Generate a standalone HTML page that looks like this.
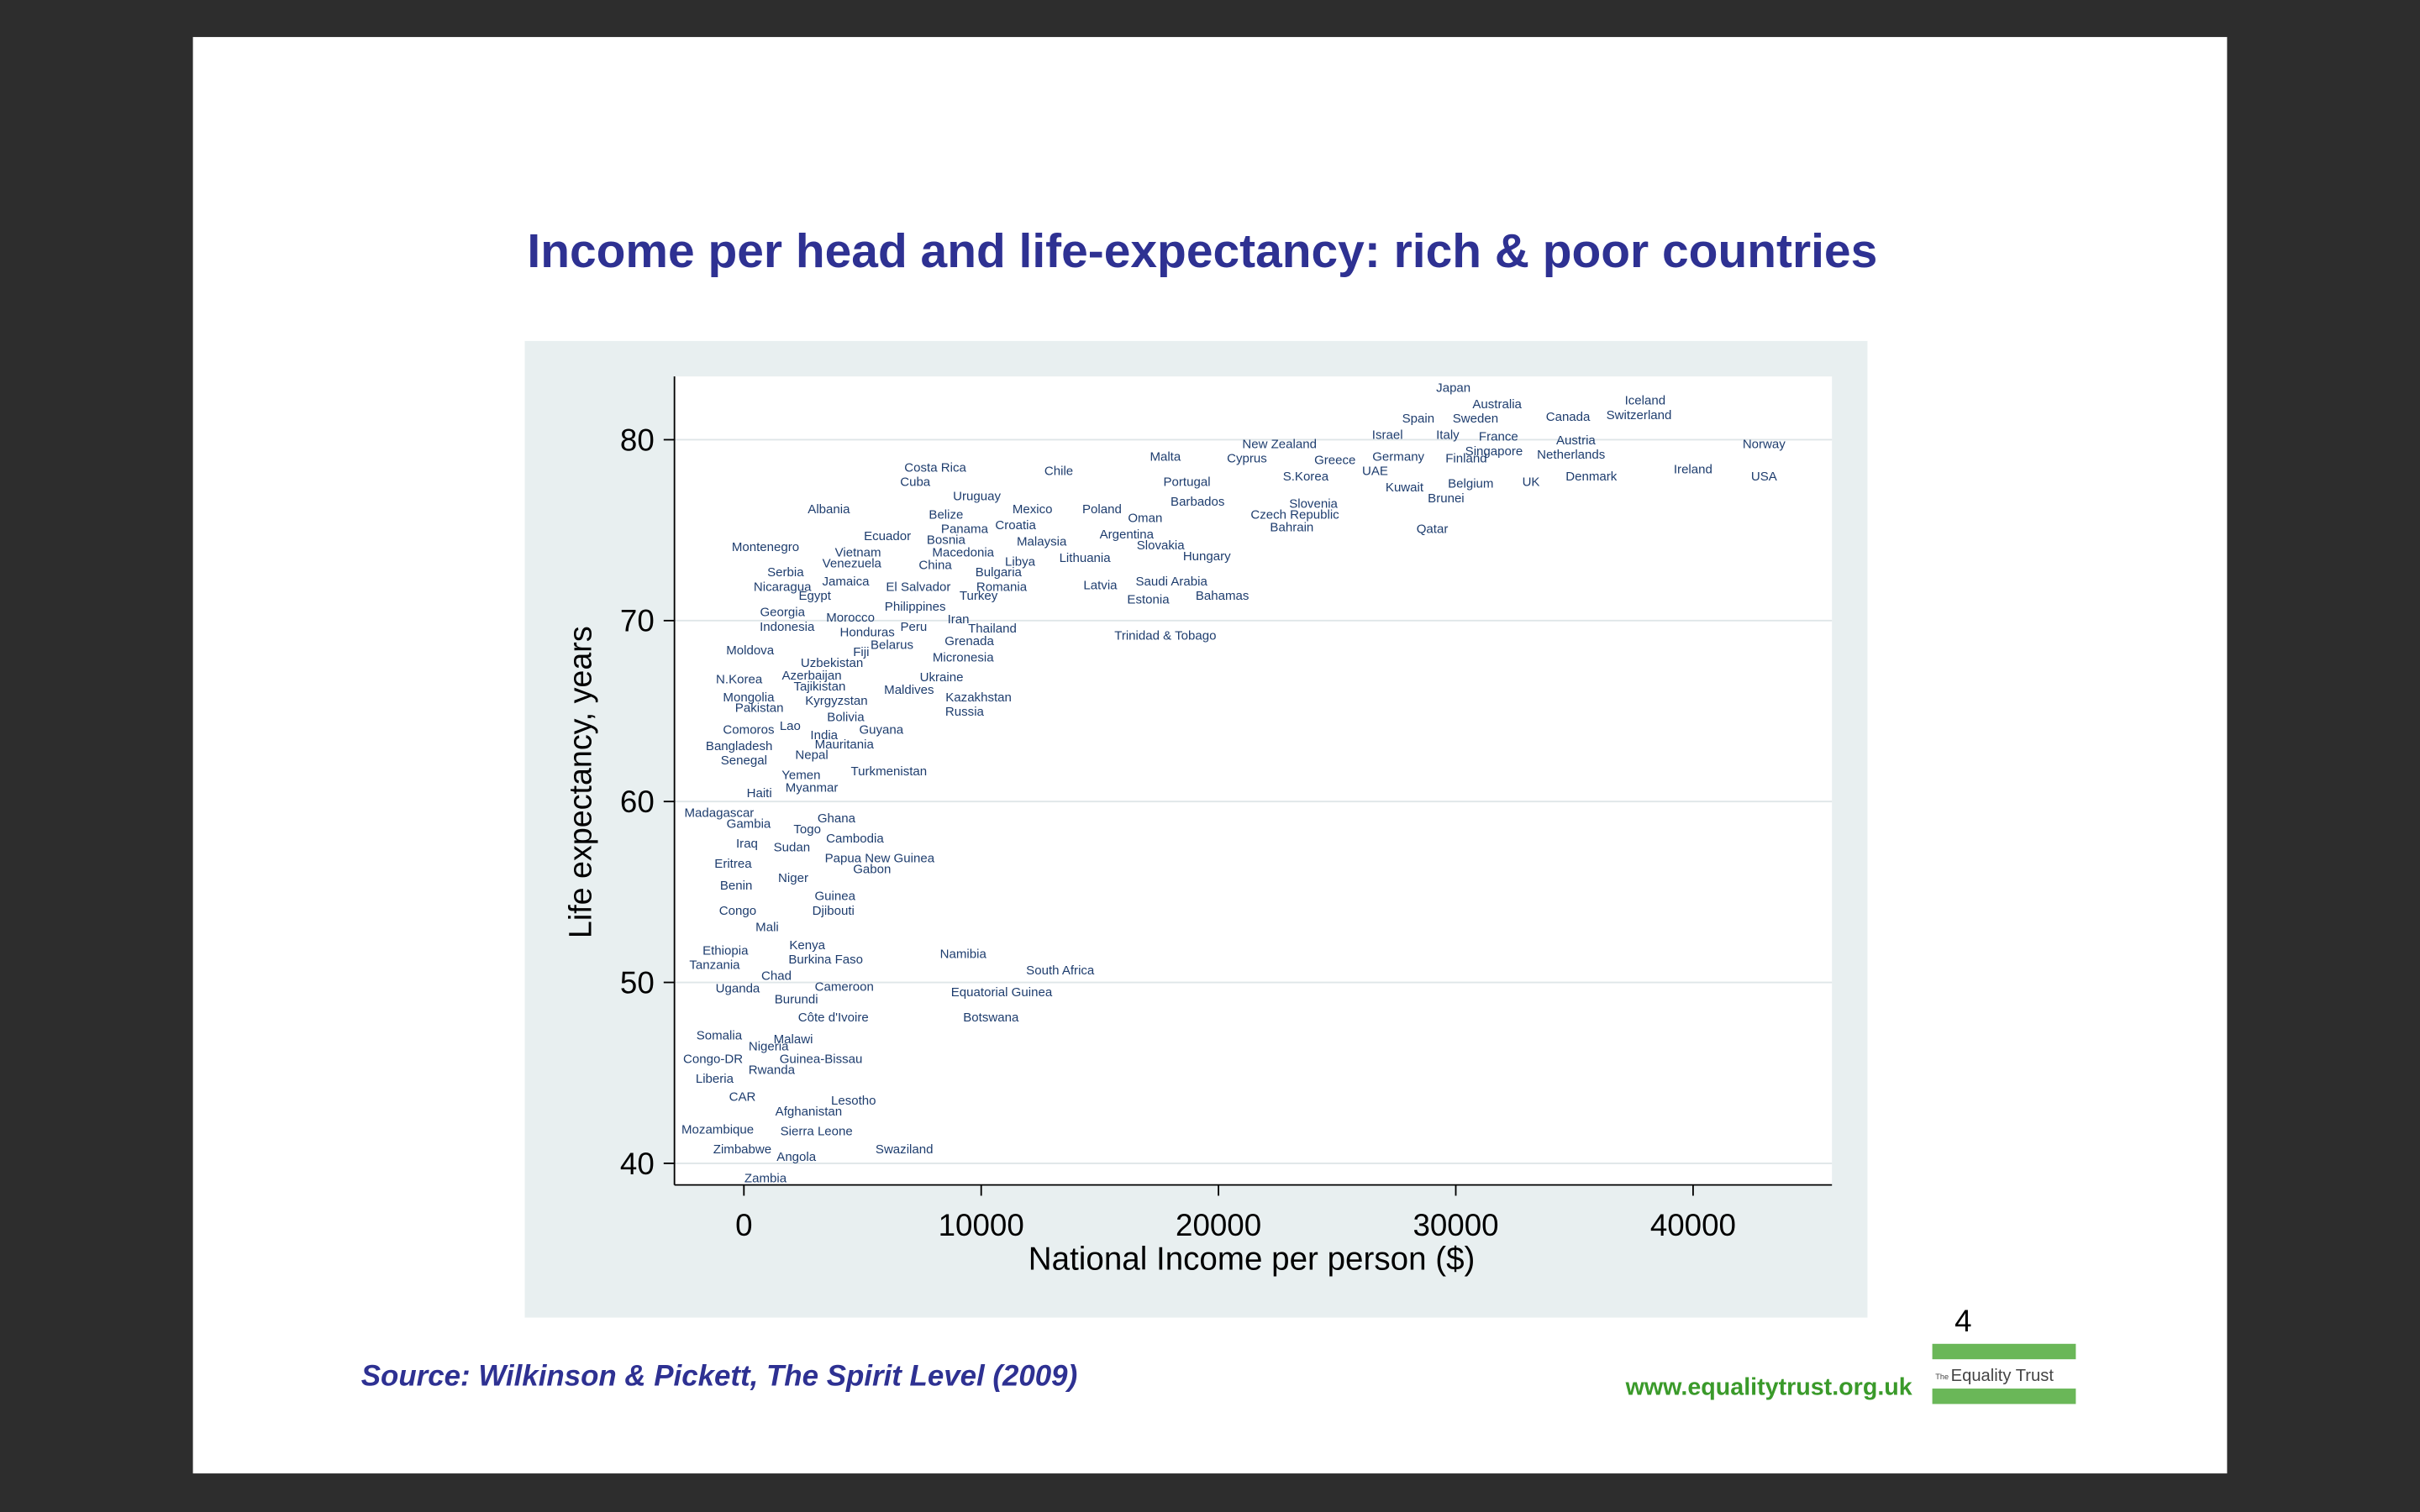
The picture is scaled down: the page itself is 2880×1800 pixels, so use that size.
<!DOCTYPE html>
<html><head><meta charset="utf-8"><style>
html,body{margin:0;padding:0;background:#2d2d2d;width:2880px;height:1800px;overflow:hidden}
svg{display:block}
text{font-family:"Liberation Sans",sans-serif}
</style></head><body>
<svg id="slide" width="2880" height="1800" viewBox="0 0 1568 980" xmlns="http://www.w3.org/2000/svg">
<rect x="0" y="0" width="1568" height="980" fill="#2d2d2d"/>
<rect x="125" y="24" width="1318" height="931" fill="#ffffff"/>
<text x="779" y="173" text-anchor="middle" font-size="31" font-weight="bold" fill="#2e3192">Income per head and life-expectancy: rich &amp; poor countries</text>
<rect x="340" y="221" width="870" height="633" fill="#e8eff0"/>
<rect x="437" y="244" width="750" height="524" fill="#ffffff"/>
<g id="grid"></g>
<g id="axes"></g>
<g id="labels"></g>
<text x="811" y="823" text-anchor="middle" font-size="21" fill="#000">National Income per person ($)</text>
<text transform="translate(383,507) rotate(-90)" text-anchor="middle" font-size="20.5" fill="#000">Life expectancy, years</text>
<text x="234" y="898" font-size="19" font-weight="bold" font-style="italic" fill="#2e3192">Source: Wilkinson &amp; Pickett, The Spirit Level (2009)</text>
<text x="1239" y="904" text-anchor="end" font-size="15.6" font-weight="bold" fill="#3a9a2a">www.equalitytrust.org.uk</text>
<text x="1272" y="863" text-anchor="middle" font-size="20" fill="#000">4</text>
<g>
<rect x="1252" y="871" width="93" height="10" fill="#6ab758"/>
<rect x="1252" y="900" width="93" height="10" fill="#6ab758"/>
<text x="1254" y="894" font-size="5" fill="#444">The</text>
<text x="1264" y="895" font-size="11" fill="#444">Equality Trust</text>
</g>
</svg>
<script>
const countries=["Japan","Australia","Iceland","Spain","Sweden","Canada","Switzerland","Israel","Italy","France","Austria","Norway","New Zealand","Malta","Cyprus","Greece","Germany","Singapore","Finland","Netherlands","Costa Rica","Chile","UAE","Ireland","USA","Cuba","Portugal","S.Korea","Belgium","UK","Denmark","Kuwait","Uruguay","Brunei","Albania","Mexico","Poland","Barbados","Slovenia","Belize","Oman","Czech Republic","Croatia","Bahrain","Panama","Qatar","Ecuador","Argentina","Bosnia","Malaysia","Slovakia","Montenegro","Vietnam","Macedonia","Hungary","Lithuania","Libya","Venezuela","China","Serbia","Bulgaria","Jamaica","Saudi Arabia","Nicaragua","El Salvador","Romania","Latvia","Egypt","Turkey","Bahamas","Estonia","Philippines","Georgia","Morocco","Iran","Peru","Indonesia","Thailand","Honduras","Trinidad & Tobago","Grenada","Belarus","Moldova","Fiji","Micronesia","Uzbekistan","Azerbaijan","Ukraine","N.Korea","Tajikistan","Maldives","Kazakhstan","Mongolia","Kyrgyzstan","Pakistan","Russia","Bolivia","Comoros","Lao","Guyana","India","Mauritania","Bangladesh","Nepal","Senegal","Turkmenistan","Yemen","Myanmar","Haiti","Madagascar","Ghana","Gambia","Togo","Cambodia","Iraq","Sudan","Papua New Guinea","Eritrea","Gabon","Niger","Benin","Guinea","Djibouti","Congo","Mali","Kenya","Ethiopia","Namibia","Burkina Faso","Tanzania","South Africa","Chad","Uganda","Cameroon","Equatorial Guinea","Burundi","Côte d'Ivoire","Botswana","Somalia","Malawi","Nigeria","Congo-DR","Guinea-Bissau","Rwanda","Liberia","CAR","Lesotho","Afghanistan","Mozambique","Sierra Leone","Zimbabwe","Swaziland","Angola","Zambia"];
const incomes=[29900,31740,37980,28420,30830,34730,37720,27120,29660,31800,35060,42990,22570,17760,21200,24910,27580,31610,30440,34860,8065,13270,26600,40000,42990,7220,18670,23675,30630,33170,35710,27840,9820,29590,3580,12160,15090,19120,24000,8520,16910,23220,11450,23090,9300,29010,6050,16130,8520,12550,17560,910,4810,9240,19510,14370,11640,4550,8065,1756,10730,4290,18020,1626,7350,10860,15020,2990,9890,20160,17040,7220,1626,4490,9040,7155,1820,10470,5200,17760,9500,6240,260,4940,9240,3710,2860,8330,-200,3190,6960,9890,200,3900,650,9300,4290,200,1950,5790,3380,4230,-200,2860,0,6110,2410,2860,650,-1040,3900,200,2670,4680,130,2020,5720,-455,5400,2080,-325,3840,3770,-260,980,2670,-780,9240,3450,-1235,13330,1370,-260,4230,10860,2210,3770,10410,-1040,2080,1040,-1300,3250,1170,-1235,-65,4620,2730,-1105,3060,-65,6760,2210,910];
const lifes=[82.9,82.0,82.2,81.2,81.2,81.3,81.4,80.3,80.3,80.2,80.0,79.8,79.8,79.1,79.0,78.9,79.1,79.4,79.0,79.2,78.5,78.3,78.3,78.4,78.0,77.7,77.7,78.0,77.6,77.7,78.0,77.4,76.9,76.8,76.2,76.2,76.2,76.6,76.5,75.9,75.7,75.9,75.3,75.2,75.1,75.1,74.7,74.8,74.5,74.4,74.2,74.1,73.8,73.8,73.6,73.5,73.3,73.2,73.1,72.7,72.7,72.2,72.2,71.9,71.9,71.9,72.0,71.4,71.4,71.4,71.2,70.8,70.5,70.2,70.1,69.7,69.7,69.6,69.4,69.2,68.9,68.7,68.4,68.3,68.0,67.7,67.0,66.9,66.8,66.4,66.2,65.8,65.8,65.6,65.2,65.0,64.7,64.0,64.2,64.0,63.7,63.2,63.1,62.6,62.3,61.7,61.5,60.8,60.5,59.4,59.1,58.8,58.5,58.0,57.7,57.5,56.9,56.6,56.3,55.8,55.4,54.8,54.0,54.0,53.1,52.1,51.8,51.6,51.3,51.0,50.7,50.4,49.7,49.8,49.5,49.1,48.1,48.1,47.1,46.9,46.5,45.8,45.8,45.2,44.7,43.7,43.5,42.9,41.9,41.8,40.8,40.8,40.4,39.2];
const xTicks=[0,10000,20000,30000,40000];
const yTicks=[40,50,60,70,80];

const NS="http://www.w3.org/2000/svg";
function xScale(v){return 482+(v-0)*(1097-482)/40000;}
function yScale(v){return 754+(v-40)*(285-754)/40;}
function mk(tag,attrs,parent){const e=document.createElementNS(NS,tag);for(const k in attrs)e.setAttribute(k,attrs[k]);parent.appendChild(e);return e;}
const grid=document.getElementById('grid'),axes=document.getElementById('axes'),labels=document.getElementById('labels');
yTicks.forEach(t=>{
  const y=yScale(t);
  const g=mk('line',{x1:437,x2:1187,y1:y,y2:y,stroke:'#dfe6e8','stroke-width':1},grid);
  
  
  const tk=mk('line',{x1:430,x2:437,y1:y,y2:y,stroke:'#000','stroke-width':1},axes);
  
  
  const tl=mk('text',{x:424,y:y+7,'text-anchor':'end','font-size':20,fill:'#000'},axes);
  tl.textContent=t;
  
  
});
xTicks.forEach(t=>{
  const x=xScale(t);
  const tk=mk('line',{x1:x,x2:x,y1:768,y2:775,stroke:'#000','stroke-width':1},axes);
  
  
  const tl=mk('text',{x:x,y:801,'text-anchor':'middle','font-size':20,fill:'#000'},axes);
  tl.textContent=t;
  
  
});
const ya=mk('line',{x1:437,x2:437,y1:244,y2:768,stroke:'#000','stroke-width':1},axes);


const xa=mk('line',{x1:437,x2:1187,y1:768,y2:768,stroke:'#000','stroke-width':1},axes);


countries.forEach((c,i)=>{
  const t=mk('text',{x:xScale(incomes[i]),y:yScale(lifes[i])+3,'text-anchor':'middle','font-size':8.2,fill:'#1e3d6e'},labels);
  t.textContent=c;
  
  
});
</script>
</body></html>
